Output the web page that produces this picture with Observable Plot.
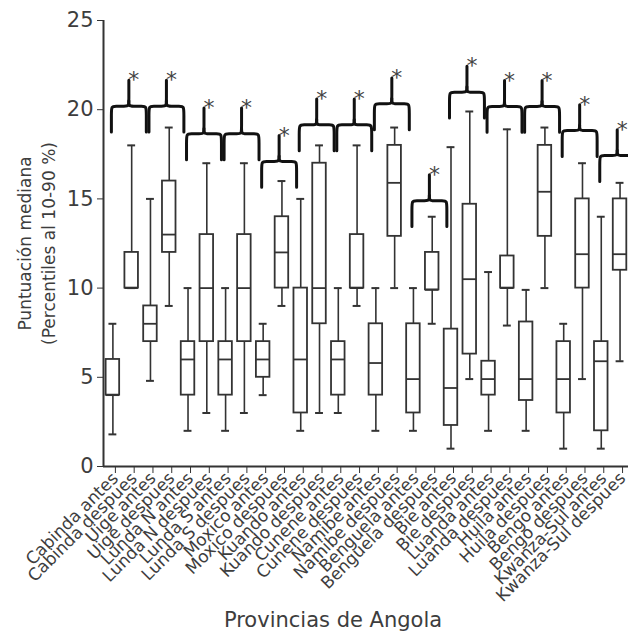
<!DOCTYPE html>
<html>
<head>
<meta charset="utf-8">
<script src="https://cdn.jsdelivr.net/npm/d3@7"></script>
<script src="https://cdn.jsdelivr.net/npm/@observablehq/plot@0.6"></script>
<style>
  html, body { margin: 0; padding: 0; background: #fff; }
  #chart { width: 628px; height: 639px; overflow: hidden; }
</style>
</head>
<body>
<div id="chart"></div>
<script>
// ---- Data ----
const categories = [
  "Cabinda antes", "Cabinda despues", "Uige antes", "Uige despues",
  "Lunda N antes", "Lunda N despues", "Lunda S antes", "Lunda S despues",
  "Moxico antes", "Moxico despues", "Kuando antes", "Kuando despues",
  "Cunene antes", "Cunene despues", "Namibe antes", "Namibe despues",
  "Benguela antes", "Benguela despues", "Bie antes", "Bie despues",
  "Luanda antes", "Luanda despues", "Huila antes", "Huila despues",
  "Bengo antes", "Bengo despues", "Kwanza-Sul antes", "Kwanza-Sul despues"
];
// 10th percentile, 25th, median, 75th, 90th percentile
const p10 = [1.8, 10, 4.8, 9, 2, 3, 2, 3, 4, 9, 2, 3, 3, 9, 2, 10, 2, 8, 1, 4.9, 2, 7.9, 2, 10, 1, 4.9, 1, 5.9];
const q1  = [4, 10, 7, 12, 4, 7, 4, 7, 5, 10, 3, 8, 4, 10, 4, 12.9, 3, 9.9, 2.3, 6.3, 4, 10, 3.7, 12.9, 3, 10, 2, 11];
const med = [4, 10, 8, 13, 6, 10, 6, 10, 6, 12, 6, 10, 6, 10, 5.8, 15.9, 4.9, 9.9, 4.4, 10.5, 4.9, 10, 4.9, 15.4, 4.9, 11.9, 5.9, 11.9];
const q3  = [6, 12, 9, 16, 7, 13, 7, 13, 7, 14, 10, 17, 7, 13, 8, 18, 8, 12, 7.7, 14.7, 5.9, 11.8, 8.1, 18, 7, 15, 7, 15];
const p90 = [8, 18, 15, 19, 10, 17, 10, 17, 8, 16, 15, 18, 10, 18, 10, 19, 10, 14, 17.9, 19.9, 10.9, 18.9, 9.9, 19, 8, 17, 14, 15.9];

// significance braces: one per province (antes vs despues)
const provinces = ["Cabinda", "Uige", "Lunda N", "Lunda S", "Moxico", "Kuando", "Cunene",
                   "Namibe", "Benguela", "Bie", "Luanda", "Huila", "Bengo", "Kwanza-Sul"];
const braceLevel = [20.2, 20.2, 18.65, 18.65, 17.1, 19.15, 19.15, 20.33, 14.9, 20.98, 20.18, 20.18, 18.83, 17.43];
const braceMark = "*";

const yTicks = [0, 5, 10, 15, 20, 25];

// ---- Derived tables ----
const rows = categories.map((c, i) => ({i, c, p10: p10[i], q1: q1[i], med: med[i], q3: q3[i], p90: p90[i]}));
const half = 0.36, cap = 0.21;

const braceW = 0.93, braceD = 1.45, braceS = 1.45, braceShift = -0.15;
const braces = provinces.map((p, k) => ({p, c: 2 * k + 1 + braceShift, H: braceLevel[k]}));
const bracePts = [];
braces.forEach((b, k) => {
  const {c, H} = b;
  const left = [[c - braceW, H - braceD], [c - braceW, H - braceD], [c - braceW, H - 0.45], [c - braceW, H],
                [c - braceW + 0.22, H], [c - 0.22, H], [c, H], [c, H + 0.35], [c, H + braceS], [c, H + braceS]];
  const right = [[c, H + 0.3], [c, H + 0.3], [c, H], [c + 0.22, H], [c + braceW - 0.22, H], [c + braceW, H],
                 [c + braceW, H - 0.45], [c + braceW, H - braceD], [c + braceW, H - braceD]];
  left.forEach(([x, y]) => bracePts.push({z: k + "L", x, y}));
  right.forEach(([x, y]) => bracePts.push({z: k + "R", x, y}));
});

const ink = "#333";
const chart = Plot.plot({
  width: 628,
  height: 639,
  marginLeft: 103,
  marginRight: 0,
  marginTop: 20,
  marginBottom: 173,
  style: {fontFamily: "'DejaVu Sans', Verdana, sans-serif", fontSize: "15px", color: "#3d3d3d", background: "#fff"},
  x: {type: "linear", domain: [-0.5, 27.45]},
  y: {domain: [0, 25]},
  marks: [
    // whiskers
    Plot.ruleX(rows, {x: "i", y1: "p10", y2: "q1", stroke: ink, strokeWidth: 1.6}),
    Plot.ruleX(rows, {x: "i", y1: "q3", y2: "p90", stroke: ink, strokeWidth: 1.6}),
    Plot.ruleY(rows, {y: "p10", x1: d => d.i - cap, x2: d => d.i + cap, stroke: ink, strokeWidth: 2}),
    Plot.ruleY(rows, {y: "p90", x1: d => d.i - cap, x2: d => d.i + cap, stroke: ink, strokeWidth: 2}),
    // boxes
    Plot.rect(rows, {x1: d => d.i - half, x2: d => d.i + half, y1: "q1", y2: "q3", fill: "white", stroke: ink, strokeWidth: 1.8}),
    Plot.ruleY(rows, {y: "med", x1: d => d.i - half, x2: d => d.i + half, stroke: ink, strokeWidth: 1.8}),
    // braces + asterisks
    Plot.line(bracePts, {x: "x", y: "y", z: "z", curve: "basis", stroke: "#111", strokeWidth: 3, strokeLinecap: "round"}),
    Plot.text(braces, {x: "c", y: d => d.H + braceS, text: () => braceMark, dx: 5, fontSize: 22, fill: "#444"}),
    // axes lines
    Plot.ruleY([0], {stroke: ink, strokeWidth: 2}),
    Plot.ruleX([-0.5], {y1: 0, y2: 25, stroke: ink, strokeWidth: 2}),
    Plot.axisY({ticks: yTicks, tickSize: 6, tickPadding: 4, fontSize: 21, label: null, tickFormat: d => String(d), stroke: ink}),
    Plot.axisX({ticks: d3.range(categories.length), tickFormat: i => categories[i], tickRotate: -45,
                tickSize: 7, tickPadding: 2, dx: 2.5, fontSize: 17, label: null, stroke: ink}),
    // axis titles
    Plot.text(["Puntuación mediana\n(Percentiles al 10-90 %)"], {frameAnchor: "left", textAnchor: "middle", text: d => d, rotate: -90,
              dx: -68.5, fontSize: 17, lineHeight: 1.47, fill: "#3d3d3d"}),
    Plot.text(["Provincias de Angola"], {frameAnchor: "bottom", text: d => d, dx: -33, dy: 160, fontSize: 21, fill: "#3d3d3d"})
  ]
});
document.getElementById("chart").appendChild(chart);
</script>
</body>
</html>
